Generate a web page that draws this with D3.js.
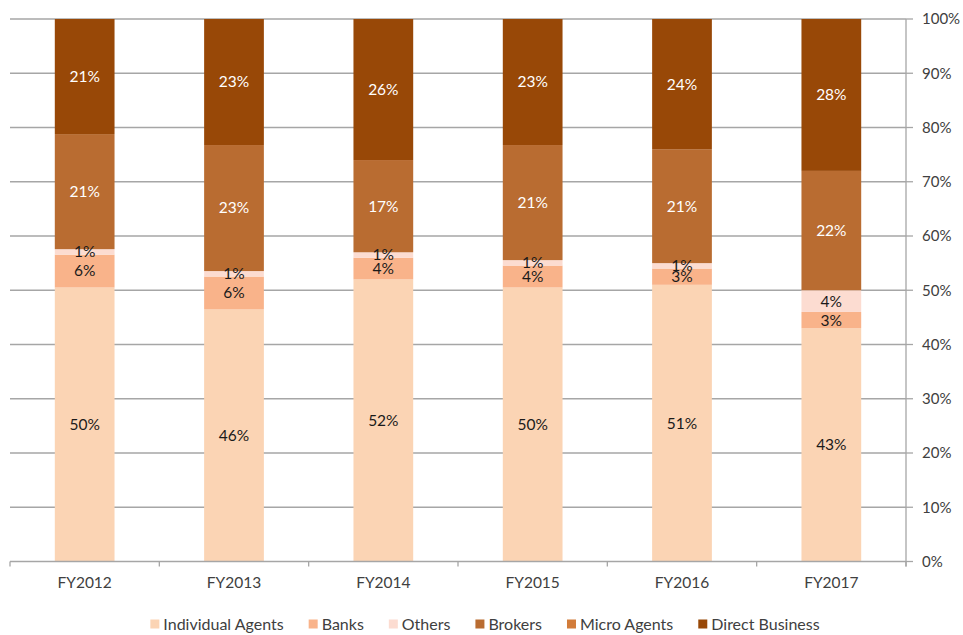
<!DOCTYPE html>
<html>
<head>
<meta charset="utf-8">
<script src="https://cdn.jsdelivr.net/npm/d3@7"></script>
<style>
  html, body { margin: 0; padding: 0; background: #ffffff; }
  svg { display: block; font-family: Lato, "Open Sans", sans-serif; }
</style>
</head>
<body>
<svg id="chart" width="963" height="635"></svg>
<script>
// Channel mix by financial year (share of business, %)
const years = ["FY2012", "FY2013", "FY2014", "FY2015", "FY2016", "FY2017"];
const seriesNames = ["Individual Agents", "Banks", "Others", "Brokers", "Micro Agents", "Direct Business"];
const individualAgents = [50, 46, 52, 50, 51, 43];
const banks            = [6, 6, 4, 4, 3, 3];
const others           = [1, 1, 1, 1, 1, 4];
const brokers          = [21, 23, 17, 21, 21, 22];
const microAgents      = [0, 0, 0, 0, 0, 0];
const directBusiness   = [21, 23, 26, 23, 24, 28];
const yTickLabels = ["0%", "10%", "20%", "30%", "40%", "50%", "60%", "70%", "80%", "90%", "100%"];

const seriesValues = [individualAgents, banks, others, brokers, microAgents, directBusiness];
const colors = ["#fbd4b4", "#f9b38a", "#fcdcd1", "#b96c31", "#d27c3a", "#984807"];
const labelColors = ["#1a1a1a", "#1a1a1a", "#1a1a1a", "#ffffff", "#ffffff", "#ffffff"];

const rows = years.map((yr, i) => {
  const r = { year: yr };
  seriesNames.forEach((s, k) => { r[s] = seriesValues[k][i]; });
  return r;
});

const svg = d3.select("#chart");
const plot = { left: 10, right: 906, top: 19, bottom: 561.5 };

const x = d3.scaleBand().domain(years).range([plot.left, plot.right])
  .paddingInner(0.6).paddingOuter(0.3);
const y = d3.scaleLinear().domain([0, 1]).range([plot.bottom, plot.top]);

const stack = d3.stack().keys(seriesNames).offset(d3.stackOffsetExpand);
const layers = stack(rows);

// Horizontal gridlines
const gridVals = d3.range(1, 11).map(d => d / 10);
svg.append("g").selectAll("line").data(gridVals).join("line")
  .attr("x1", plot.left).attr("x2", plot.right)
  .attr("y1", d => y(d)).attr("y2", d => y(d))
  .attr("stroke", "#a6a6a6").attr("stroke-width", 1.3);

// Stacked bars
const layerG = svg.append("g").selectAll("g").data(layers).join("g")
  .attr("fill", (d, i) => colors[i]);
layerG.selectAll("rect").data(d => d).join("rect")
  .attr("x", d => x(d.data.year))
  .attr("width", x.bandwidth())
  .attr("y", d => y(d[1]))
  .attr("height", d => Math.max(0, y(d[0]) - y(d[1])));

// Segment value labels
const labelG = svg.append("g");
layers.forEach((layer, k) => {
  layer.forEach((d, i) => {
    const v = seriesValues[k][i];
    if (!v) return;
    labelG.append("text")
      .attr("x", x(d.data.year) + x.bandwidth() / 2)
      .attr("y", (y(d[0]) + y(d[1])) / 2)
      .attr("dy", "0.35em")
      .attr("text-anchor", "middle")
      .attr("font-size", 15.5)
      .attr("fill", labelColors[k])
      .text(v + "%");
  });
});

// X axis
const step = x.step();
const axisColor = "#a6a6a6";
const xAxis = svg.append("g");
xAxis.append("line")
  .attr("x1", plot.left).attr("x2", plot.right)
  .attr("y1", plot.bottom).attr("y2", plot.bottom)
  .attr("stroke", axisColor).attr("stroke-width", 1.3);
xAxis.selectAll("line.tick").data(d3.range(years.length + 1)).join("line")
  .attr("class", "tick")
  .attr("x1", i => plot.left + i * step).attr("x2", i => plot.left + i * step)
  .attr("y1", plot.bottom).attr("y2", plot.bottom + 5)
  .attr("stroke", axisColor).attr("stroke-width", 1.3);
xAxis.selectAll("text").data(years).join("text")
  .attr("x", d => x(d) + x.bandwidth() / 2)
  .attr("y", 588)
  .attr("text-anchor", "middle")
  .attr("font-size", 15.5)
  .attr("fill", "#404040")
  .text(d => d);

// Y axis on the right
const yAxis = svg.append("g");
yAxis.append("line")
  .attr("x1", plot.right).attr("x2", plot.right)
  .attr("y1", plot.top).attr("y2", plot.bottom + 5)
  .attr("stroke", axisColor).attr("stroke-width", 1.3);
const yTickVals = d3.range(0, 11).map(d => d / 10);
yAxis.selectAll("line.tick").data(yTickVals).join("line")
  .attr("class", "tick")
  .attr("x1", plot.right).attr("x2", plot.right + 7)
  .attr("y1", d => y(d)).attr("y2", d => y(d))
  .attr("stroke", axisColor).attr("stroke-width", 1.3);
yAxis.selectAll("text").data(yTickVals).join("text")
  .attr("x", 922)
  .attr("y", d => y(d))
  .attr("dy", "0.35em")
  .attr("font-size", 15)
  .attr("fill", "#404040")
  .text((d, i) => yTickLabels[i]);

// Legend
const legend = svg.append("g");
const items = legend.selectAll("g").data(seriesNames).join("g");
items.append("rect").attr("width", 9).attr("height", 9).attr("y", -4.5)
  .attr("fill", (d, i) => colors[i]);
items.append("text").attr("x", 13).attr("dy", "0.35em")
  .attr("font-size", 16).attr("fill", "#404040").text(d => d);
const gap = 25;
let cursor = 0;
const offsets = [];
items.each(function () {
  offsets.push(cursor);
  cursor += 13 + this.querySelector("text").getComputedTextLength() + gap;
});
const totalW = cursor - gap;
const startX = 485 - totalW / 2;
items.attr("transform", (d, i) => `translate(${startX + offsets[i]},624)`);
</script>
</body>
</html>
